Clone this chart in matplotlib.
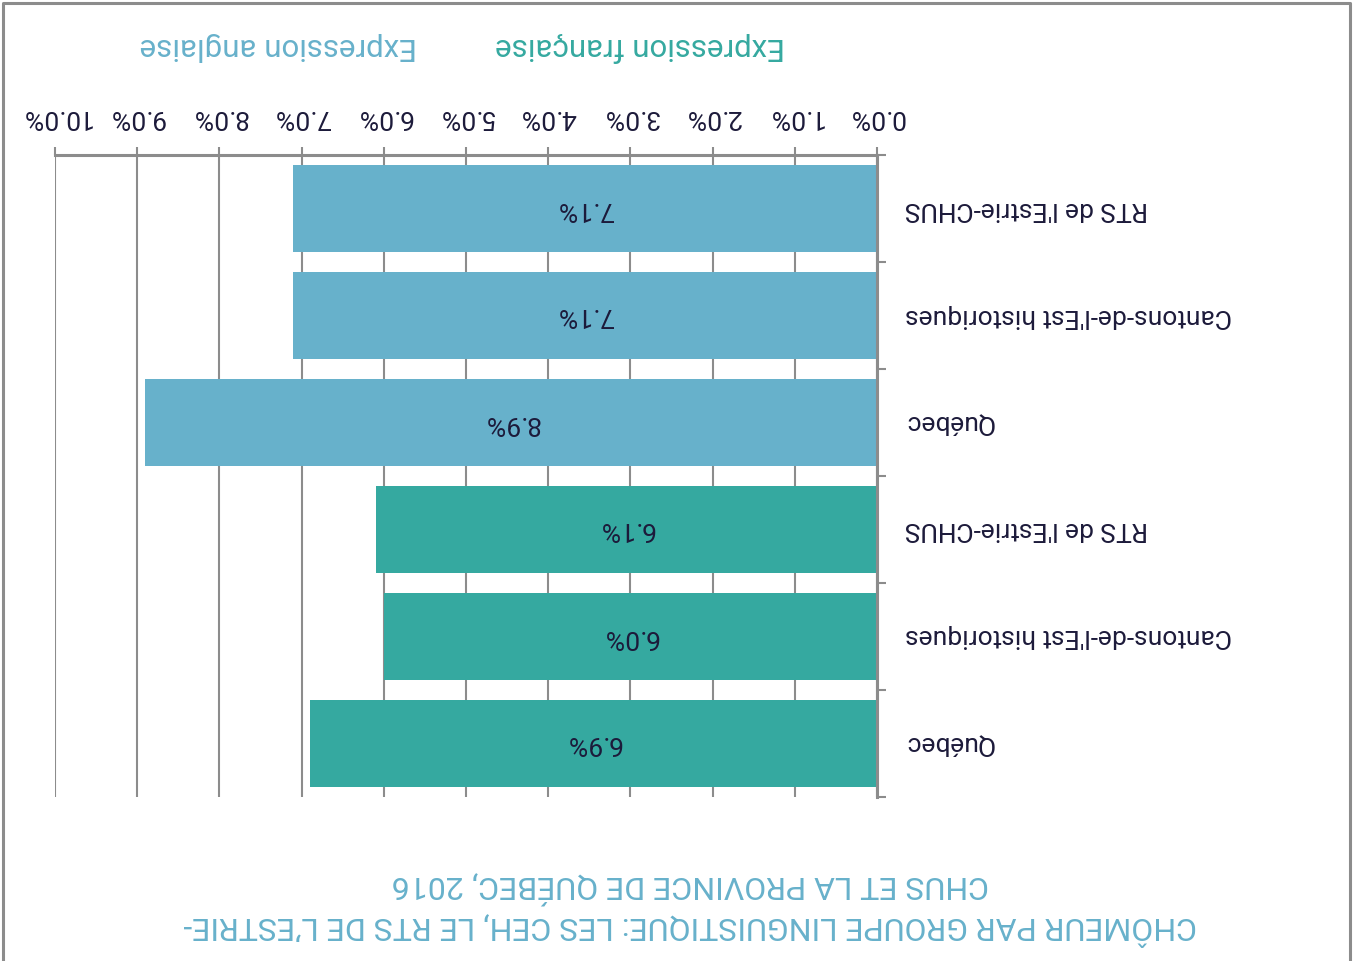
import numpy as np
import matplotlib
matplotlib.use('Agg')
import matplotlib.pyplot as plt
from matplotlib.lines import Line2D

plt.rcParams['font.family'] = ['Roboto', 'DejaVu Sans']

# Données (ordre de haut en bas dans l'image retournée)
regions = ["RTS de l'Estrie-CHUS", "Cantons-de-l'Est historiques", "Québec"]
anglaise = [7.1, 7.1, 8.9]
francaise = [6.1, 6.0, 6.9]
x_ticks = [0, 1, 2, 3, 4, 5, 6, 7, 8, 9, 10]

title = ("CHÔMEUR PAR GROUPE LINGUISTIQUE: LES CEH, LE RTS DE L’ESTRIE-\n"
         "CHUS ET LA PROVINCE DE QUÉBEC, 2016")

BLUE = '#67b1cb'
TEAL = '#35a9a0'
TXT = '#1c1a3a'
GRAY = '#8c8c8c'

fig = plt.figure(figsize=(13.53, 9.61), dpi=100)
ax = fig.add_axes([55 / 1353, 1 - 797 / 961, 822 / 1353, 642 / 961])

labels = regions + regions
values = anglaise + francaise
colors = [BLUE] * len(anglaise) + [TEAL] * len(francaise)
ypos = np.arange(len(values))

bars = ax.barh(ypos, values, height=0.82, color=colors, zorder=3)
ax.bar_label(bars, labels=[f"{v:.1f}%" for v in values], label_type='center',
             rotation=180, color=TXT, fontsize=19)

ax.set_xlim(0, 10)
ax.invert_xaxis()
ax.set_ylim(len(values) - 0.5, -0.5)

ax.xaxis.tick_top()
ax.set_xticks(x_ticks)
ax.set_xticklabels([f"{t:.1f}%" for t in x_ticks], rotation=180, fontsize=19, color=TXT)
ax.tick_params(axis='x', direction='out', length=6, width=1.5, color=GRAY, pad=13)
ax.grid(axis='x', color=GRAY, lw=1.5, zorder=0)

ax.yaxis.tick_right()
ax.set_yticks(np.arange(len(values) + 1) - 0.5)
ax.set_yticklabels([])
ax.set_yticks(ypos, minor=True)
ax.set_yticklabels(labels, minor=True, rotation=180, ha='left', va='center',
                   fontsize=19, color=TXT)
ax.tick_params(axis='y', which='major', direction='out', length=6.5, width=1.5, color=GRAY)
ax.tick_params(axis='y', which='minor', length=0, pad=20)

for s in ['left', 'bottom']:
    ax.spines[s].set_visible(False)
for s in ['top', 'right']:
    ax.spines[s].set_color(GRAY)
    ax.spines[s].set_linewidth(2.2)
ax.spines['right'].set_zorder(4)

# Légende (texte coloré seulement)
fig.text(640 / 1353, 1 - 47 / 961, "Expression française", rotation=180,
         ha='center', va='center', fontsize=22.5, color=TEAL)
fig.text(278 / 1353, 1 - 47 / 961, "Expression anglaise", rotation=180,
         ha='center', va='center', fontsize=22.5, color=BLUE)

# Titre
fig.text(690 / 1353, 1 - 908 / 961, title, rotation=180, ha='center', va='center',
         multialignment='center', fontsize=23, color=BLUE, linespacing=1.3,
         family=['Liberation Sans Narrow', 'Roboto', 'DejaVu Sans'])

# Cadre
fig.add_artist(Line2D([3 / 1353, 3 / 1353, 1350 / 1353, 1350 / 1353],
                      [0, 1 - 3 / 961, 1 - 3 / 961, 0],
                      transform=fig.transFigure, color=GRAY, lw=2.2))

fig.savefig('out.png', dpi=100, facecolor='white')
